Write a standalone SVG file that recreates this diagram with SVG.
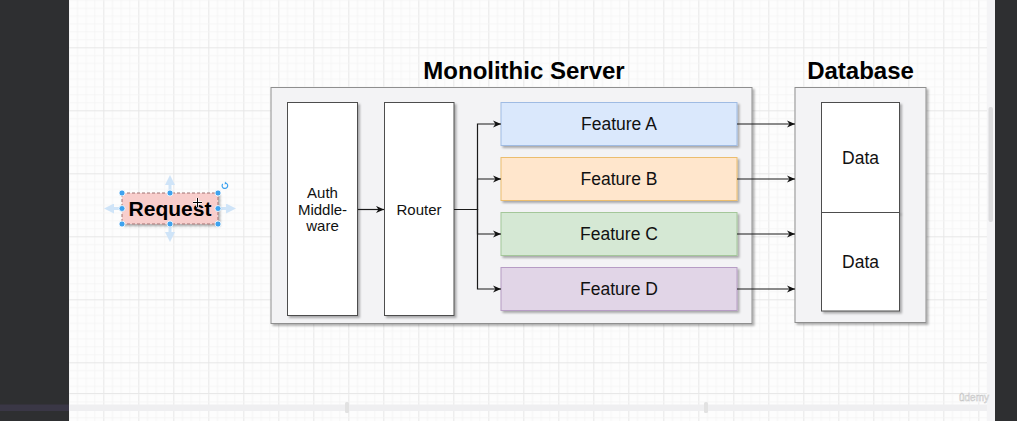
<svg xmlns="http://www.w3.org/2000/svg" width="1017" height="421" viewBox="0 0 1017 421">
  <defs>
    <!-- canvas grid: fine lines with heavier lines every few cells -->
    <pattern id="gridV" patternUnits="userSpaceOnUse" x="33.3" y="0" width="35" height="421">
      <rect x="8.75" y="0" width="0.8" height="421" fill="#f3f3f3"/>
      <rect x="17.5" y="0" width="0.8" height="421" fill="#f3f3f3"/>
      <rect x="26.25" y="0" width="0.8" height="421" fill="#f3f3f3"/>
      <rect x="0" y="0" width="1" height="421" fill="#e7e7e7"/>
    </pattern>
    <pattern id="gridH" patternUnits="userSpaceOnUse" x="0" y="47.3" width="1017" height="63">
      <rect x="0" y="7.875" width="1017" height="0.8" fill="#f4f4f4"/>
      <rect x="0" y="15.75" width="1017" height="0.8" fill="#f4f4f4"/>
      <rect x="0" y="23.625" width="1017" height="0.8" fill="#f4f4f4"/>
      <rect x="0" y="31.5" width="1017" height="0.8" fill="#f4f4f4"/>
      <rect x="0" y="39.375" width="1017" height="0.8" fill="#f4f4f4"/>
      <rect x="0" y="47.25" width="1017" height="0.8" fill="#f4f4f4"/>
      <rect x="0" y="55.125" width="1017" height="0.8" fill="#f4f4f4"/>
      <rect x="0" y="0" width="1017" height="1" fill="#e7e7e7"/>
    </pattern>
    <filter id="shadow" x="-10%" y="-10%" width="130%" height="130%">
      <feDropShadow dx="2" dy="2" stdDeviation="0.8" flood-color="#000" flood-opacity="0.3"/>
    </filter>
    <marker id="arrow" viewBox="0 0 10 10" refX="10" refY="5" markerWidth="9" markerHeight="8" orient="auto" markerUnits="userSpaceOnUse">
      <path d="M0,0.5 L10,5 L0,9.5 L3,5 Z" fill="#111"/>
    </marker>
    <marker id="hover" viewBox="0 0 10 10" refX="5" refY="5" markerWidth="10" markerHeight="10" orient="auto" markerUnits="userSpaceOnUse">
      <path d="M0,0 L10,5 L0,10 Z" fill="#cfe4f8"/>
    </marker>
    <style>
      .container { fill: #f3f3f5; stroke: #8f8f8f; stroke-width: 1; }
      .box { fill: #ffffff; stroke: #4d4d4d; stroke-width: 1; }
      .title { font-family: "Liberation Sans", Arial, sans-serif; font-size: 24px; font-weight: bold; fill: #000; text-anchor: middle; }
      .label { font-family: "Liberation Sans", Arial, sans-serif; font-size: 15px; fill: #111; text-anchor: middle; }
      .big { font-size: 17.5px; }
      .edge { fill: none; stroke: #1a1a1a; stroke-width: 1.2; }
      .handle { fill: #3ea2ee; stroke: #ffffff; stroke-width: 0.8; }
      .hover { fill: none; stroke: #cfe4f8; stroke-width: 3; }
    </style>
  </defs>

  <!-- editor canvas -->
  <rect x="0" y="0" width="1017" height="421" fill="#fdfdfd"/>
  <rect x="69" y="0" width="918" height="421" fill="url(#gridV)"/>
  <rect x="69" y="0" width="918" height="421" fill="url(#gridH)"/>
  <rect x="69" y="393" width="918" height="1" fill="#e8e8e8"/>
  <rect x="69" y="404.5" width="926" height="6.5" fill="#efeff1"/>
  <rect x="345" y="402" width="4" height="11" rx="1.5" fill="#e2e2e2"/>
  <rect x="704" y="402" width="4" height="11" rx="1.5" fill="#e2e2e2"/>

  <!-- side panels and scrollbar -->
  <rect x="0" y="0" width="69" height="421" fill="#2e2f31"/>
  <rect x="0" y="404.5" width="69" height="6.5" fill="#3a3746"/>
  <rect x="987" y="0" width="8" height="421" fill="#f4f4f6"/>
  <rect x="988.5" y="107" width="4.5" height="115" rx="2" fill="#dcdcde"/>
  <rect x="995" y="0" width="22" height="421" fill="#2e2f31"/>
  <text x="974" y="401" font-family="'Liberation Sans', Arial, sans-serif" font-size="10" fill="#ffffff" stroke="#c4c4c4" stroke-width="0.5" text-anchor="middle">ûdemy</text>

  <!-- containers -->
  <g id="monolithic-server">
    <rect class="container" x="271" y="87.5" width="481" height="236" filter="url(#shadow)"/>
    <text class="title" x="524" y="79">Monolithic Server</text>
  </g>
  <g id="database">
    <rect class="container" x="795" y="87.5" width="131" height="235" filter="url(#shadow)"/>
    <text class="title" x="860.5" y="79">Database</text>
  </g>

  <!-- server components -->
  <g id="auth-middleware">
    <rect class="box" x="287.5" y="102.5" width="70" height="213" filter="url(#shadow)"/>
    <text class="label" x="322.5" y="198">Auth</text>
    <text class="label" x="322.5" y="215">Middle-</text>
    <text class="label" x="322.5" y="231">ware</text>
  </g>
  <g id="router">
    <rect class="box" x="384.5" y="102.5" width="69.5" height="213" filter="url(#shadow)"/>
    <text class="label" x="419" y="215">Router</text>
  </g>
  <g id="feature-a">
    <rect x="501" y="102.5" width="236" height="43" fill="#dae8fc" stroke="#9fbbe3" filter="url(#shadow)"/>
    <text class="label big" x="619" y="130">Feature A</text>
  </g>
  <g id="feature-b">
    <rect x="501" y="157.5" width="236" height="43" fill="#ffe6cc" stroke="#ebbd6e" filter="url(#shadow)"/>
    <text class="label big" x="619" y="185">Feature B</text>
  </g>
  <g id="feature-c">
    <rect x="501" y="212.5" width="236" height="43" fill="#d5e8d4" stroke="#a4c79a" filter="url(#shadow)"/>
    <text class="label big" x="619" y="240">Feature C</text>
  </g>
  <g id="feature-d">
    <rect x="501" y="267.5" width="236" height="43" fill="#e1d5e7" stroke="#b69cc4" filter="url(#shadow)"/>
    <text class="label big" x="619" y="295">Feature D</text>
  </g>

  <!-- storage -->
  <g id="data-1">
    <rect class="box" x="821.5" y="102.5" width="78" height="110" filter="url(#shadow)"/>
    <text class="label big" x="860.5" y="163.5">Data</text>
  </g>
  <g id="data-2">
    <rect class="box" x="821.5" y="212.5" width="78" height="98.5" filter="url(#shadow)"/>
    <text class="label big" x="860.5" y="268">Data</text>
  </g>

  <!-- request (selected, with hover arrows and handles) -->
  <g id="request">
    <path class="hover" d="M170,190 V180" marker-end="url(#hover)"/>
    <path class="hover" d="M170,227 V237" marker-end="url(#hover)"/>
    <path class="hover" d="M119,208.5 H109" marker-end="url(#hover)"/>
    <path class="hover" d="M221,208.5 H231" marker-end="url(#hover)"/>
    <rect x="122" y="193" width="96" height="31" fill="#f8cecc" stroke="#a07070" stroke-width="1" stroke-dasharray="3 2" filter="url(#shadow)"/>
    <text x="170" y="216" font-family="'Liberation Sans', Arial, sans-serif" font-size="21" font-weight="bold" fill="#000" text-anchor="middle">Request</text>
    <circle class="handle" cx="122" cy="193" r="3"/>
    <circle class="handle" cx="170" cy="193" r="3"/>
    <circle class="handle" cx="218" cy="193" r="3"/>
    <circle class="handle" cx="122" cy="208.5" r="3"/>
    <circle class="handle" cx="218" cy="208.5" r="3"/>
    <circle class="handle" cx="122" cy="224" r="3"/>
    <circle class="handle" cx="170" cy="224" r="3"/>
    <circle class="handle" cx="218" cy="224" r="3"/>
    <path d="M222.8,183.8 A2.8,2.8 0 1 0 226.2,183.2" fill="none" stroke="#3ea2ee" stroke-width="1.2"/>
    <path d="M225,181.5 L227,183.5 L224.6,184.4 Z" fill="#3ea2ee"/>
    <!-- move cursor -->
    <path d="M197.5,198 V207 M193,202.5 H202" stroke="#ffffff" stroke-width="2.6"/>
    <path d="M197.5,198 V207 M193,202.5 H202" stroke="#000" stroke-width="1"/>
  </g>

  <!-- connectors -->
  <g id="connectors">
    <path class="edge" d="M358,209.5 H384" marker-end="url(#arrow)"/>
    <path class="edge" d="M454,209.5 H477.5 V124 H501" marker-end="url(#arrow)"/>
    <path class="edge" d="M454,209.5 H477.5 V179 H501" marker-end="url(#arrow)"/>
    <path class="edge" d="M454,209.5 H477.5 V234 H501" marker-end="url(#arrow)"/>
    <path class="edge" d="M454,209.5 H477.5 V289 H501" marker-end="url(#arrow)"/>
    <path class="edge" d="M737,124 H795" marker-end="url(#arrow)"/>
    <path class="edge" d="M737,179 H795" marker-end="url(#arrow)"/>
    <path class="edge" d="M737,234 H795" marker-end="url(#arrow)"/>
    <path class="edge" d="M737,289 H795" marker-end="url(#arrow)"/>
  </g>
</svg>
